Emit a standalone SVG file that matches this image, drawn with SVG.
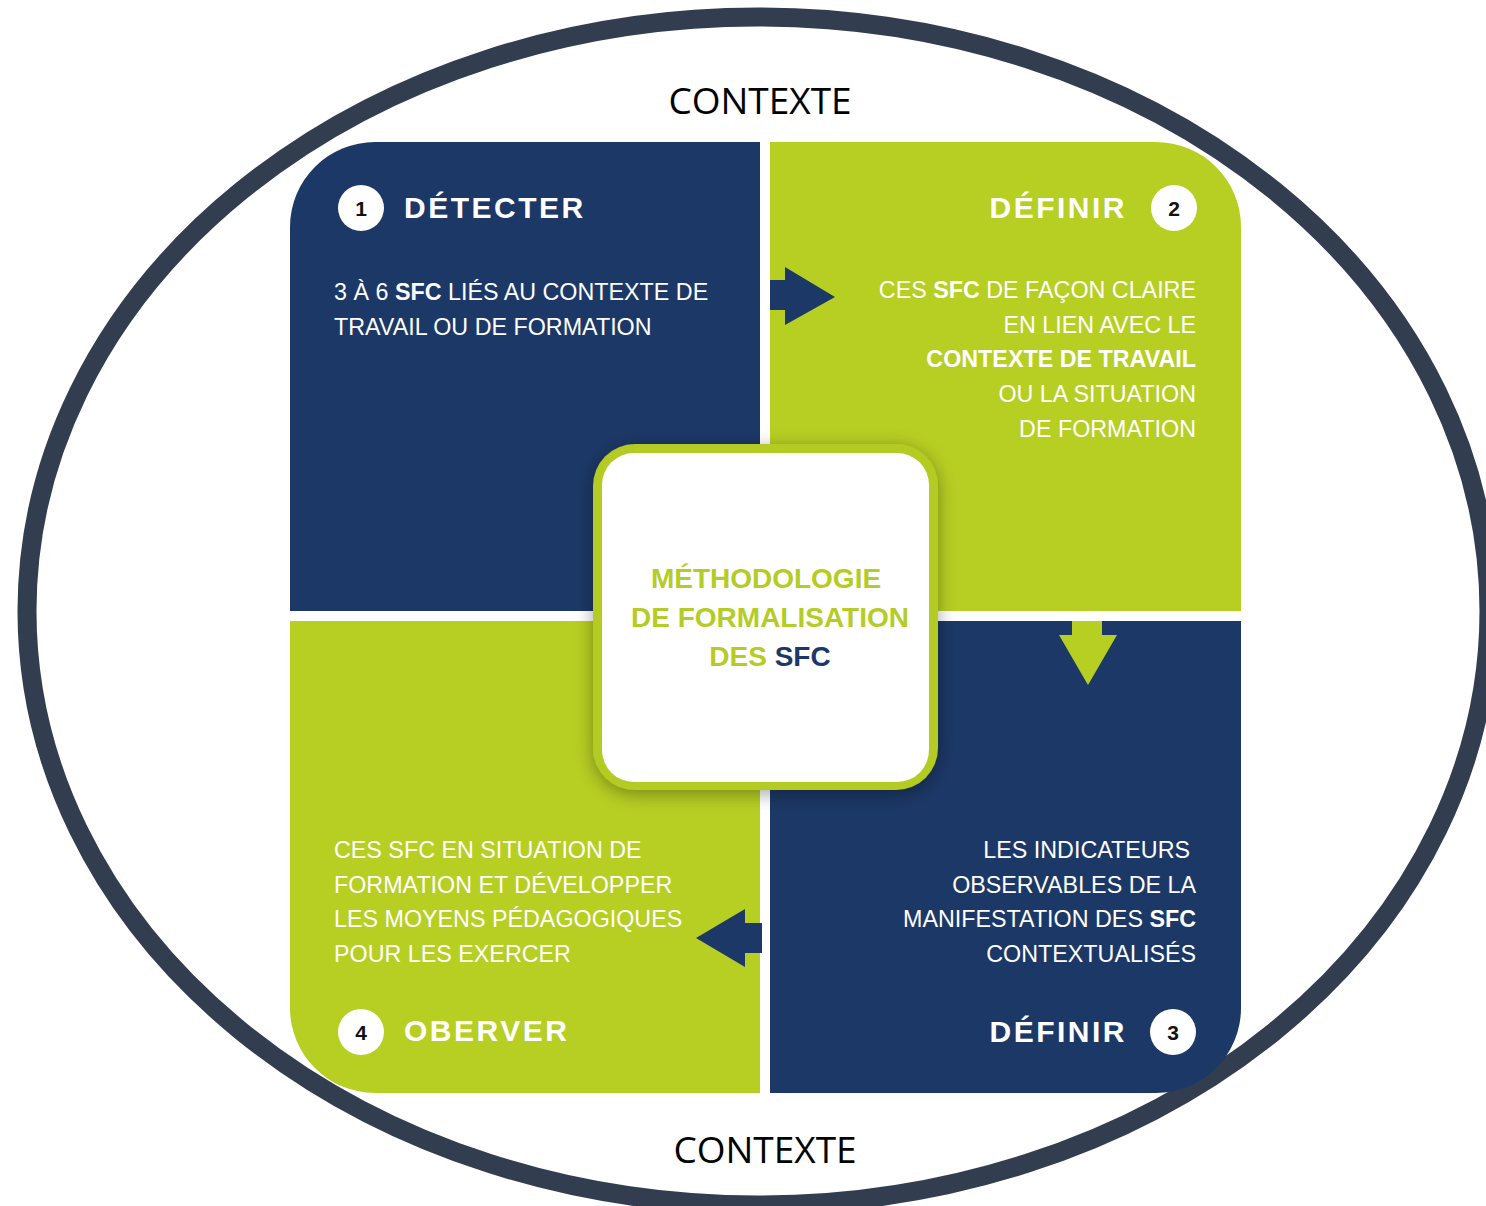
<svg xmlns="http://www.w3.org/2000/svg" width="1486" height="1206" viewBox="0 0 1486 1206">
<defs>
<style>
.navy{fill:#1c3866}
.green{fill:#b7ce23}
.hdr{font-family:"Liberation Sans",Arial,sans-serif;font-weight:bold;font-size:30px;letter-spacing:2.5px;fill:#ffffff}
.body{font-family:"Liberation Sans",Arial,sans-serif;font-size:23.3px;fill:#ffffff}
.b{font-weight:bold}
.num{font-family:"Liberation Sans",Arial,sans-serif;font-weight:bold;font-size:21px;fill:#111111;text-anchor:middle}
.ctx{font-family:"Open Sans","Liberation Sans",sans-serif;font-size:37px;fill:#000000;text-anchor:middle}
.ctr{font-family:"Liberation Sans",Arial,sans-serif;font-weight:bold;font-size:28px;fill:#b5cc26;text-anchor:middle}
</style>
<filter id="sh" x="-20%" y="-20%" width="140%" height="140%">
<feDropShadow dx="0" dy="4" stdDeviation="9" flood-color="#000000" flood-opacity="0.35"/>
</filter>
</defs>
<rect width="1486" height="1206" fill="#ffffff"/>

<g id="context">
<ellipse cx="758" cy="611" rx="731" ry="594" fill="none" stroke="#323e50" stroke-width="19"/>
<text class="ctx" x="760" y="114">CONTEXTE</text>
<text class="ctx" x="765" y="1163">CONTEXTE</text>
</g>

<g id="quadrant-1">
<path class="navy" d="M290,611 V227 A85,85 0 0 1 375,142 H760 V611 Z"/>
<circle cx="361" cy="208" r="23" fill="#ffffff"/>
<text class="num" x="361" y="215.5">1</text>
<text class="hdr" x="404" y="218">DÉTECTER</text>
<text class="body" x="334" y="300">3 À 6 <tspan class="b">SFC</tspan> LIÉS AU CONTEXTE DE</text>
<text class="body" x="334" y="335">TRAVAIL OU DE FORMATION</text>
</g>

<g id="quadrant-2">
<path class="green" d="M770,142 H1156 A85,85 0 0 1 1241,227 V611 H770 Z"/>
<circle cx="1174" cy="208" r="23" fill="#ffffff"/>
<text class="num" x="1174" y="215.5">2</text>
<text class="hdr" x="1127" y="218" text-anchor="end">DÉFINIR</text>
<g class="body" text-anchor="end">
<text x="1196" y="298">CES <tspan class="b">SFC</tspan> DE FAÇON CLAIRE</text>
<text x="1196" y="333">EN LIEN AVEC LE</text>
<text x="1196" y="367" class="b">CONTEXTE DE TRAVAIL</text>
<text x="1196" y="402">OU LA SITUATION</text>
<text x="1196" y="437">DE FORMATION</text>
</g>
</g>

<g id="quadrant-4">
<path class="green" d="M290,621 H760 V1093 H375 A85,85 0 0 1 290,1008 Z"/>
<circle cx="361" cy="1032" r="23" fill="#ffffff"/>
<text class="num" x="361" y="1039.5">4</text>
<text class="hdr" x="404" y="1041">OBERVER</text>
<text class="body" x="334" y="858">CES SFC EN SITUATION DE</text>
<text class="body" x="334" y="893">FORMATION ET DÉVELOPPER</text>
<text class="body" x="334" y="927">LES MOYENS PÉDAGOGIQUES</text>
<text class="body" x="334" y="962">POUR LES EXERCER</text>
</g>

<g id="quadrant-3">
<path class="navy" d="M770,621 H1241 V1008 A85,85 0 0 1 1156,1093 H770 Z"/>
<circle cx="1173" cy="1032" r="23" fill="#ffffff"/>
<text class="num" x="1173" y="1039.5">3</text>
<text class="hdr" x="1127" y="1042" text-anchor="end">DÉFINIR</text>
<g class="body" text-anchor="end">
<text x="1190" y="858">LES INDICATEURS</text>
<text x="1196" y="893">OBSERVABLES DE LA</text>
<text x="1196" y="927">MANIFESTATION DES <tspan class="b">SFC</tspan></text>
<text x="1196" y="962">CONTEXTUALISÉS</text>
</g>
</g>

<g id="connectors">
<path class="navy" d="M770,280 H785 V267 L835,297 L785,325 V310 H770 Z"/>
<path class="green" d="M1072,621 H1102 V635 H1117 L1088,685 L1059,635 H1072 Z"/>
<path class="navy" d="M762,923 H745 V909 L696,938 L745,967 V953 H762 Z"/>
</g>

<g id="center">
<rect x="593" y="444" width="345" height="346" rx="42" fill="#b3cb22" filter="url(#sh)"/>
<rect x="602" y="453" width="327" height="329" rx="32" fill="#ffffff"/>
<text class="ctr" x="766" y="588">MÉTHODOLOGIE</text>
<text class="ctr" x="770" y="627">DE FORMALISATION</text>
<text class="ctr" x="770" y="666">DES <tspan fill="#1c3866">SFC</tspan></text>
</g>
</svg>
